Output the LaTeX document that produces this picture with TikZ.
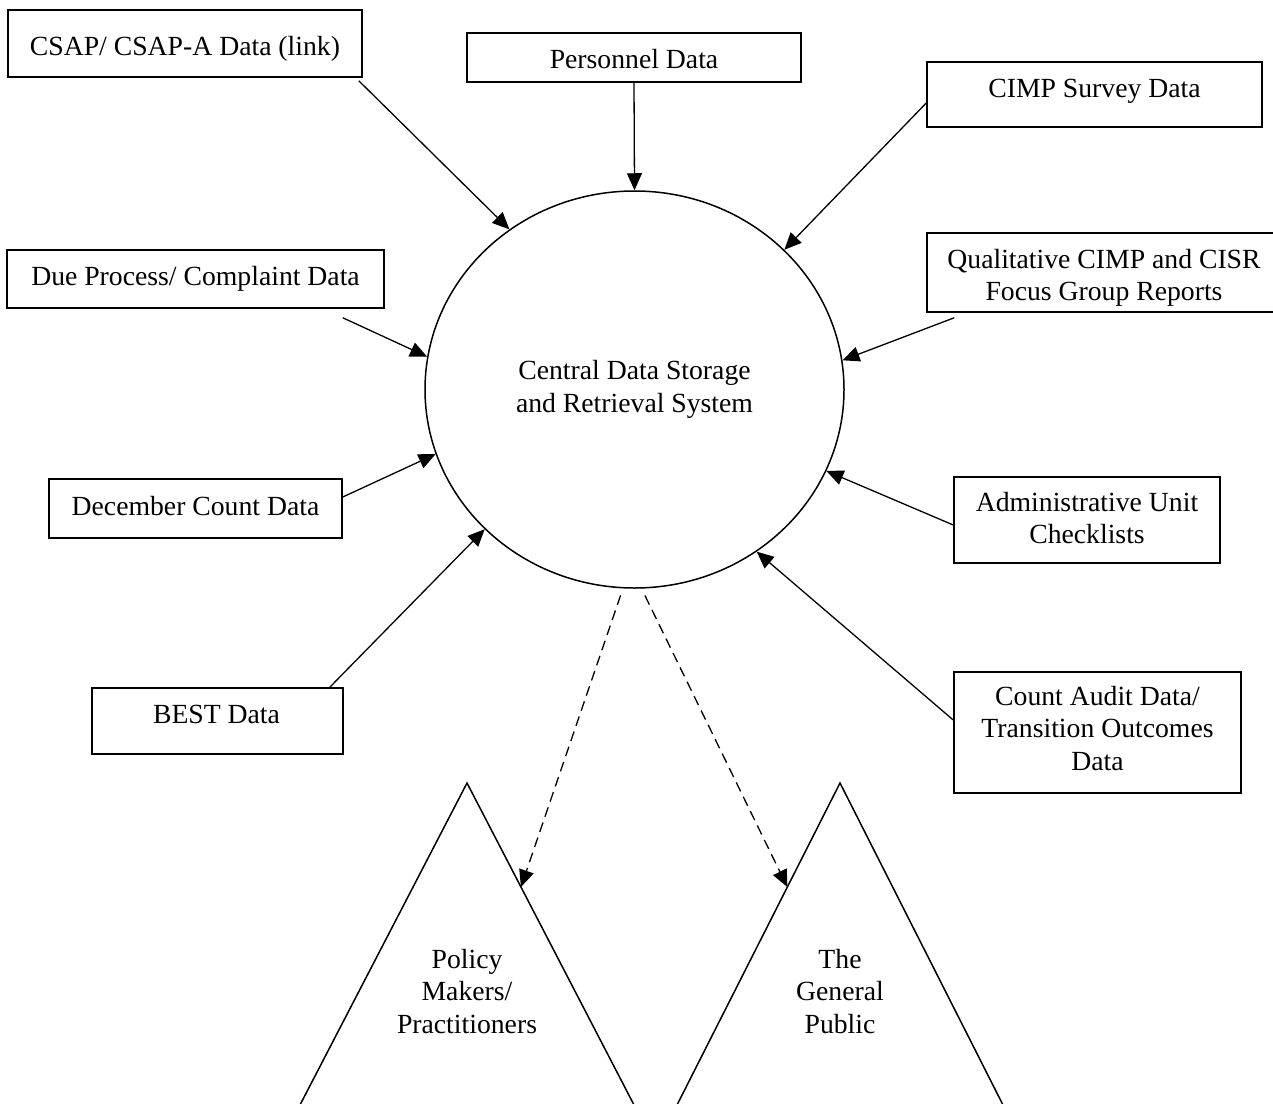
\documentclass[tikz,border=0pt]{standalone}
\usepackage{fontspec}
\setmainfont{Liberation Serif}
\usetikzlibrary{arrows.meta,shapes.geometric,calc}
\newcommand\dgfont{\fontsize{27.7}{32.5}\selectfont}
\begin{document}
\begin{tikzpicture}[x=1pt,y=-1pt,
  box/.style={draw, line width=1.5pt, inner sep=0pt},
  lbl/.style={font=\dgfont, align=center, inner sep=0pt},
  arr/.style={-{Triangle[length=17pt,width=15pt]}, line width=1.3pt},
  dasharr/.style={arr, dash pattern=on 10pt off 6pt},
  tri/.style={line width=1.5pt, line join=miter}]
\useasboundingbox (0,0) rectangle (1273,1103);

% boxes
\node[box, minimum width=354pt, minimum height=67pt] (csap) at (185,43.5) {};
\node[lbl, anchor=base] (csapT) at (185,55) {CSAP/ CSAP-A Data (link)};

\node[box, minimum width=334pt, minimum height=49pt] (pers) at (634,57.5) {};
\node[lbl, anchor=base] (persT) at (634,68) {Personnel Data};

\node[box, minimum width=335pt, minimum height=65pt] (cimp) at (1094.5,94.5) {};
\node[lbl, anchor=base] (cimpT) at (1094.5,97) {CIMP Survey Data};

\node[box, minimum width=377pt, minimum height=58pt] (due) at (195.5,279) {};
\node[lbl, anchor=base] (dueT) at (195.5,285) {Due Process/ Complaint Data};

\node[box, minimum width=354pt, minimum height=79pt] (qual) at (1104,272.5) {};
\node[lbl, anchor=north] (qualT) at (1104,249) {Qualitative CIMP and CISR\\Focus Group Reports};

\node[box, minimum width=293pt, minimum height=59pt] (dec) at (195.5,508.5) {};
\node[lbl, anchor=base] (decT) at (195.5,515) {December Count Data};

\node[box, minimum width=251pt, minimum height=66pt] (best) at (217.5,721) {};
\node[lbl, anchor=base] (bestT) at (216.5,723) {BEST Data};

\node[box, minimum width=266pt, minimum height=86pt] (admin) at (1087,520) {};
\node[lbl, anchor=north] (adminT) at (1087,492) {Administrative Unit\\Checklists};

\node[box, minimum width=287pt, minimum height=121pt] (count) at (1097.5,732.5) {};
\node[lbl, anchor=north] (countT) at (1097.5,686) {Count Audit Data/\\Transition Outcomes\\Data};

% central store
\node[lbl, draw, ellipse, line width=1.5pt, minimum width=419pt, minimum height=397pt] (cds) at (634.5,389.5) {Central Data Storage\\and Retrieval System};

% incoming arrows
\draw[arr] ([shift={(-4,3)}]csap.south east) -- (cds.128.8);
\draw[arr] (pers.south) -- (cds.north);
\draw[arr] ([shift={(0,8.5)}]cimp.west) -- (cds.43.1);
\draw[arr] ([shift={(-42,9)}]due.south east) -- (cds.171.2);
\draw[arr] ([shift={(28,5)}]qual.south west) -- (cds.8.6);
\draw[arr] ([shift={(0,-11.5)}]dec.east) -- (cds.198.4);
\draw[arr] ([shift={(0,5)}]admin.west) -- (cds.337.6);
\draw[arr] ([shift={(-14,0)}]best.north east) -- (cds.223.8);
\draw[arr] ([shift={(0,-12.5)}]count.west) -- (cds.307.7);

% audience triangles
\coordinate (pmA) at (467,783);
\coordinate (pmL) at (301,1103);
\coordinate (pmR) at (633,1103);
\draw[tri] ($(pmA)!1.03!(pmL)$) -- (pmA) -- ($(pmA)!1.03!(pmR)$);
\node[lbl, anchor=north] (pm) at (467,949) {Policy\\Makers/\\Practitioners};

\coordinate (gpA) at (840,783);
\coordinate (gpL) at (678,1103);
\coordinate (gpR) at (1002,1103);
\draw[tri] ($(gpA)!1.03!(gpL)$) -- (gpA) -- ($(gpA)!1.03!(gpR)$);
\node[lbl, anchor=north] (gp) at (840,949) {The\\General\\Public};

\coordinate (pmHit) at ($(pmA)!0.325!(pmR)$);
\coordinate (gpHit) at ($(gpA)!0.325!(gpL)$);
\draw[dasharr] ([yshift=-7pt]cds.266.2) -- (pmHit);
\draw[dasharr] ([yshift=-7pt]cds.273.8) -- (gpHit);
\end{tikzpicture}
\end{document}
